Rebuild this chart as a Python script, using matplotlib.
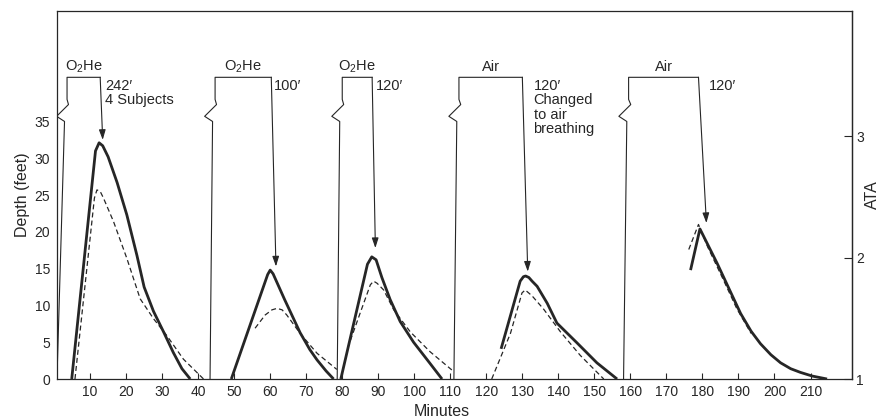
import matplotlib.pyplot as plt

plt.rcParams["font.family"] = ["Liberation Sans", "DejaVu Sans"]

INK = "#262626"

# ----- depth profiles (time in minutes, depth in feet) -----
# solid = measured depth, dashed = second trace
dive1_t = [4.9, 11.5, 12.5, 13.5, 15.0, 17.5, 20.2, 23.0, 25.0, 27.6, 30.4, 33.1, 35.5, 37.8]
dive1_depth = [0, 31.0, 32.1, 31.7, 30.2, 26.7, 22.3, 16.8, 12.5, 9.2, 6.4, 3.6, 1.4, 0]
dive1_dash_t = [5.8, 11.2, 11.9, 12.8, 13.7, 16.5, 20.2, 23.9, 27.6, 31.3, 35.9, 41.5]
dive1_dash_depth = [0, 24.6, 25.7, 25.5, 24.6, 21.4, 16.4, 10.9, 8.2, 5.9, 2.7, 0]

dive2_t = [49.2, 59.3, 60.0, 60.8, 64.0, 68.3, 71.0, 73.0, 75.5, 77.6]
dive2_depth = [0, 14.2, 14.8, 14.3, 10.8, 6.3, 4.0, 2.6, 1.1, 0]
dive2_dash_t = [55.8, 58.6, 60.5, 61.9, 63.3, 64.6, 68.3, 73.0, 78.5]
dive2_dash_depth = [6.9, 8.7, 9.4, 9.6, 9.4, 8.7, 6.2, 3.5, 1.3]

dive3_t = [79.6, 87.0, 88.2, 89.4, 91.0, 93.3, 96.1, 99.8, 104.4, 107.7]
dive3_depth = [0, 15.6, 16.6, 16.2, 13.8, 10.8, 7.8, 5.0, 2.1, 0]
dive3_dash_t = [81.5, 85.0, 87.8, 88.7, 89.7, 91.5, 94.3, 98.9, 104.4, 110.5]
dive3_dash_depth = [4.2, 9.0, 12.8, 13.3, 13.0, 12.1, 9.4, 6.4, 3.7, 1.2]

dive4_t = [124.1, 129.4, 130.3, 130.9, 131.8, 132.7, 134.1, 136.9, 139.6, 145.2, 150.7, 156.3]
dive4_depth = [4.1, 13.3, 13.9, 14.0, 13.8, 13.3, 12.6, 10.3, 7.6, 4.9, 2.2, 0]
dive4_dash_t = [121.5, 126.7, 129.9, 130.8, 132.7, 135.9, 140.6, 146.1, 152.6]
dive4_dash_depth = [0, 6.2, 11.7, 12.1, 11.3, 9.5, 6.4, 3.2, 0]

dive5_t = [176.7, 179.3, 184.1, 190.6, 193.5, 196.1, 199.0, 201.7, 204.5, 207.2, 210.5, 214.6]
dive5_depth = [14.8, 20.4, 15.7, 8.9, 6.5, 4.8, 3.3, 2.2, 1.4, 0.9, 0.4, 0]
dive5_dash_t = [176.2, 178.9, 181.5, 185.5, 189.5, 193.5]
dive5_dash_depth = [17.6, 21.0, 17.9, 13.8, 9.6, 6.2]

# ----- exposure brackets (chamber runs, broken scale) -----
gas_labels = [r"O$_\mathregular{2}$He", r"O$_\mathregular{2}$He", r"O$_\mathregular{2}$He", "Air", "Air"]
note_labels = ["242\u2032\n4 Subjects", "100\u2032", "120\u2032",
               "120\u2032\nChanged\nto air\nbreathing", "120\u2032"]
descent_start_t = [0.8, 43.3, 78.6, 111.0, 158.1]
break_low_t = [2.9, 44.0, 79.3, 111.8, 159.0]
break_high_t = [3.6, 44.7, 80.0, 112.4, 159.5]
ascent_t = [12.8, 60.3, 88.3, 130.0, 178.9]
arrow_tip_t = [13.5, 61.6, 89.2, 131.5, 181.1]
arrow_tip_depth = [32.5, 15.3, 17.8, 14.6, 21.2]
note_t = [14.2, 61.1, 89.4, 133.1, 181.7]

BRACKET_TOP = 41.0
BREAK_BOTTOM, BREAK_TOP = 35.0, 38.0

solid_runs = [(dive1_t, dive1_depth), (dive2_t, dive2_depth), (dive3_t, dive3_depth),
              (dive4_t, dive4_depth), (dive5_t, dive5_depth)]
dashed_runs = [(dive1_dash_t, dive1_dash_depth), (dive2_dash_t, dive2_dash_depth),
               (dive3_dash_t, dive3_dash_depth), (dive4_dash_t, dive4_dash_depth),
               (dive5_dash_t, dive5_dash_depth)]


def depth_to_ata(d):
    return 1 + d / 16.5


def ata_to_depth(a):
    return (a - 1) * 16.5


fig = plt.figure(figsize=(8.79, 4.20), dpi=100)
ax = fig.add_axes([0.0648, 0.0976, 0.9044, 0.876])

for t, d in solid_runs:
    ax.plot(t, d, color=INK, lw=2.0, solid_joinstyle="round", solid_capstyle="butt", zorder=4)
for t, d in dashed_runs:
    ax.plot(t, d, color=INK, lw=0.9, dashes=(4, 2.5), zorder=3)

for i in range(len(gas_labels)):
    x0, xl, xh, xr = descent_start_t[i], break_low_t[i], break_high_t[i], ascent_t[i]
    # descent line with the zig-zag scale break, then the bottom time
    ax.plot([x0, xl, xl - 2.2, xl + 1.1, xh, xh, xr],
            [0, BREAK_BOTTOM, BREAK_BOTTOM + 0.7, BREAK_BOTTOM + 2.3, BREAK_TOP,
             BRACKET_TOP, BRACKET_TOP],
            color=INK, lw=0.8, zorder=2)
    ax.annotate("", xy=(arrow_tip_t[i], arrow_tip_depth[i]), xytext=(xr, BRACKET_TOP),
                arrowprops=dict(arrowstyle="-|>,head_length=0.6,head_width=0.2",
                                color=INK, lw=0.8, shrinkA=0, shrinkB=0), zorder=5)
    ax.text((xh + xr) / 2, 41.9, gas_labels[i], ha="center", va="baseline",
            fontsize=10.5, color=INK)
    ax.text(note_t[i], 40.8, note_labels[i], ha="left", va="top", fontsize=10.5,
            color=INK, linespacing=1.05)

ax.set_xlim(0.8, 221.5)
ax.set_ylim(0, 50)
ax.set_xticks(range(10, 211, 10))
ax.set_yticks(range(0, 36, 5))
ax.tick_params(axis="x", direction="in", length=4.5, width=0.8, pad=4,
               labelsize=10, colors=INK)
ax.tick_params(axis="y", length=0, pad=5, labelsize=10, colors=INK)
for s in ax.spines.values():
    s.set_color(INK)
    s.set_linewidth(0.9)

ax.set_xlabel("Minutes", fontsize=11.5, color=INK)
ax.xaxis.set_label_coords(0.484, -0.068)
ax.set_ylabel("Depth (feet)", fontsize=11.5, color=INK, labelpad=3)

sec = ax.secondary_yaxis("right", functions=(depth_to_ata, ata_to_depth))
sec.set_yticks([1, 2, 3])
sec.tick_params(direction="in", length=6, width=0.8, pad=3, labelsize=10, colors=INK)
sec.spines["right"].set_color(INK)
sec.spines["right"].set_linewidth(0.9)
sec.set_ylabel("ATA", fontsize=11.5, color=INK, labelpad=1)

fig.savefig("out.png", dpi=100, facecolor="white")
